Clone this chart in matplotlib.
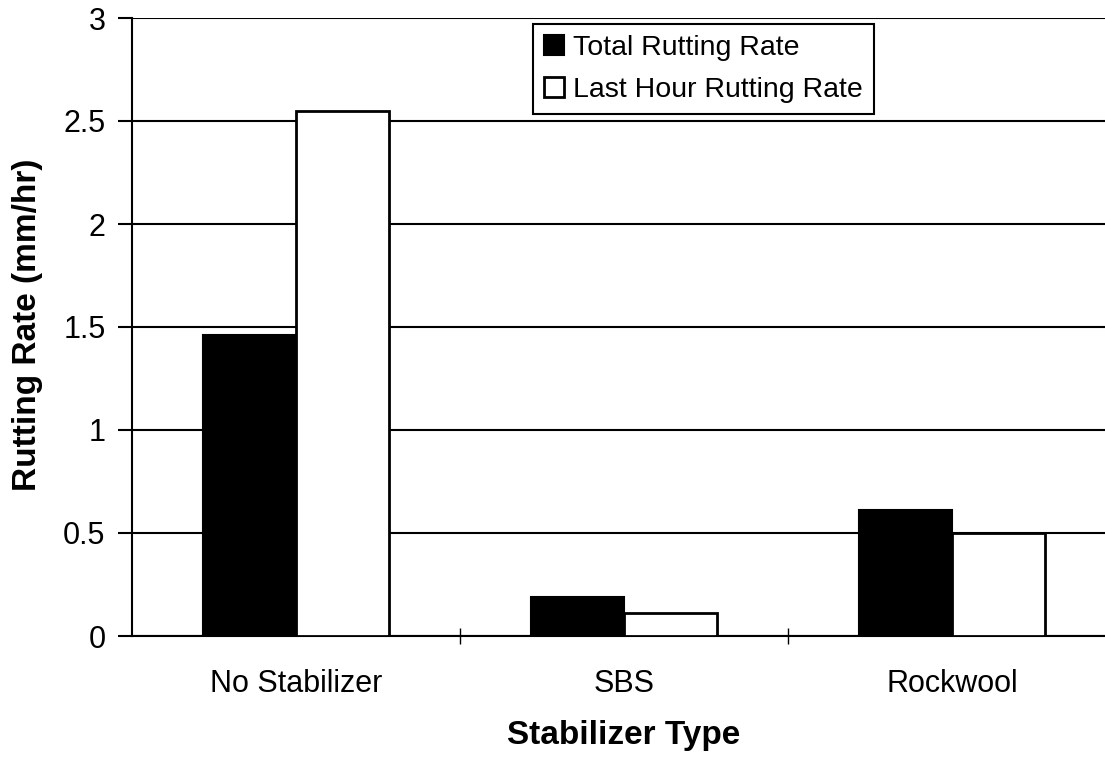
import numpy as np
import matplotlib
matplotlib.use("Agg")
import matplotlib.pyplot as plt

plt.rcParams['font.family'] = ['Liberation Sans', 'DejaVu Sans']

categories = ['No Stabilizer', 'SBS', 'Rockwool']
total_rate = [1.46, 0.19, 0.61]
last_hour_rate = [2.55, 0.11, 0.50]
y_ticks = [0, 0.5, 1, 1.5, 2, 2.5, 3]
y_labels = ['0', '0.5', '1', '1.5', '2', '2.5', '3']

fig = plt.figure(figsize=(11.05, 7.58), dpi=100)
ax = fig.add_axes([132 / 1105, 1 - 636 / 758, 984 / 1105, 618 / 758])

x = np.arange(len(categories))
w = 0.285
ax.bar(x - w / 2, total_rate, w, color='black', edgecolor='black', linewidth=1.5,
       label='Total Rutting Rate', zorder=3)
ax.bar(x + w / 2, last_hour_rate, w, color='white', edgecolor='black', linewidth=2,
       label='Last Hour Rutting Rate', zorder=3)

ax.set_xlim(-0.5, 2.5)
ax.set_ylim(0, 3)
ax.set_yticks(y_ticks)
ax.set_yticklabels(y_labels, fontsize=22)
ax.set_xticks(x)
ax.set_xticklabels(categories, fontsize=22)
ax.tick_params(axis='x', length=0, pad=24)
ax.set_xticks([0.5, 1.5], minor=True)
ax.tick_params(axis='x', which='minor', length=12, direction='inout', width=1)
ax.tick_params(axis='y', length=10, width=1.5, direction='out', pad=9)

ax.yaxis.grid(True, color='black', linewidth=1.5, zorder=0)
ax.set_axisbelow(True)
for s in ['top', 'right']:
    ax.spines[s].set_visible(False)
ax.spines['left'].set_linewidth(1.5)
ax.spines['bottom'].set_linewidth(1.5)

ax.set_ylabel('Rutting Rate (mm/hr)', fontsize=24, fontweight='bold')
ax.yaxis.set_label_coords(-89 / 984, 0.503)
ax.set_xlabel('Stabilizer Type', fontsize=24, fontweight='bold')
ax.xaxis.set_label_coords(0.5, -84 / 618)

leg = ax.legend(loc='upper left', bbox_to_anchor=(401 / 984, 1 - 6 / 618), fontsize=20.5,
                frameon=True, fancybox=False, edgecolor='black', framealpha=1,
                handlelength=0.7, handleheight=0.7, handletextpad=0.3,
                borderpad=0.4, labelspacing=0.55, borderaxespad=0)
leg.get_frame().set_linewidth(1.5)

fig.savefig('out.png', dpi=100)
